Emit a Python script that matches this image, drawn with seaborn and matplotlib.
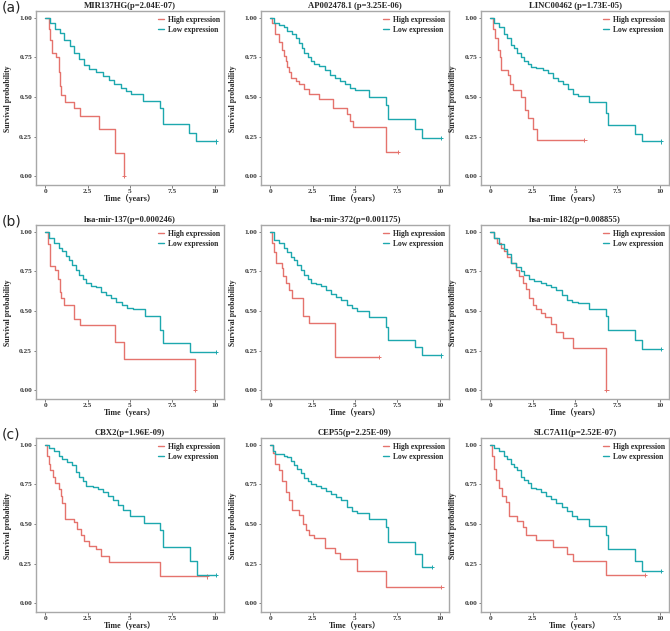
import numpy as np
import pandas as pd
import seaborn as sns
import matplotlib.pyplot as plt

# survival curves: (time in years, survival probability)
titles = ["MIR137HG(p=2.04E-07)", "AP002478.1 (p=3.25E-06)", "LINC00462 (p=1.73E-05)",
          "hsa-mir-137(p=0.000246)", "hsa-mir-372(p=0.001175)", "hsa-mir-182(p=0.008855)",
          "CBX2(p=1.96E-09)", "CEP55(p=2.25E-09)", "SLC7A11(p=2.52E-07)"]
panel_tags = ["(a)", "(b)", "(c)"]

high_t = [
    [0, 0.2, 0.3, 0.4, 0.65, 0.8, 0.85, 0.95, 1.15, 1.7, 2.05, 3.15, 4.1, 4.65],
    [0, 0.1, 0.3, 0.5, 0.7, 0.8, 0.9, 1.0, 1.1, 1.2, 1.5, 1.7, 2.0, 2.3, 2.9, 3.7, 4.5, 4.7, 4.9, 6.85, 7.55],
    [0, 0.15, 0.3, 0.45, 0.55, 0.65, 1.05, 1.15, 1.35, 1.8, 2.05, 2.25, 2.5, 2.75, 5.55],
    [0, 0.15, 0.3, 0.6, 0.75, 0.85, 0.95, 1.1, 1.7, 2.05, 4.1, 4.65, 8.85, 8.85],
    [0, 0.1, 0.2, 0.35, 0.7, 0.75, 0.95, 1.1, 1.25, 1.9, 1.95, 2.3, 3.8, 6.4],
    [0, 0.2, 0.4, 0.6, 0.8, 1.0, 1.2, 1.5, 1.7, 1.9, 2.1, 2.3, 2.5, 2.7, 3.0, 3.2, 3.6, 3.9, 4.3, 4.9, 6.85, 6.85],
    [0, 0.1, 0.2, 0.3, 0.45, 0.6, 0.8, 0.9, 1.0, 1.15, 1.7, 1.9, 2.1, 2.3, 2.6, 3.0, 3.3, 3.75, 6.8, 9.55],
    [0, 0.15, 0.3, 0.5, 0.7, 0.9, 1.1, 1.3, 1.7, 1.9, 2.1, 2.3, 2.6, 3.2, 3.8, 4.1, 5.1, 6.85, 10.1],
    [0, 0.1, 0.2, 0.35, 0.5, 0.7, 0.9, 1.1, 1.6, 1.9, 2.1, 2.7, 3.7, 4.5, 4.9, 6.85, 9.1],
]
high_s = [
    [1.0, 0.93, 0.86, 0.78, 0.75, 0.66, 0.57, 0.51, 0.47, 0.43, 0.38, 0.30, 0.15, 0.0],
    [1.0, 0.97, 0.90, 0.85, 0.80, 0.76, 0.73, 0.69, 0.66, 0.62, 0.60, 0.58, 0.55, 0.52, 0.49, 0.43, 0.39, 0.35, 0.31, 0.155, 0.155],
    [1.0, 0.93, 0.87, 0.80, 0.75, 0.67, 0.64, 0.58, 0.545, 0.50, 0.42, 0.365, 0.30, 0.228, 0.228],
    [1.0, 0.92, 0.785, 0.76, 0.70, 0.62, 0.58, 0.537, 0.45, 0.41, 0.304, 0.20, 0.20, 0.0],
    [1.0, 0.93, 0.87, 0.80, 0.77, 0.72, 0.68, 0.63, 0.58, 0.53, 0.47, 0.424, 0.21, 0.21],
    [1.0, 0.96, 0.93, 0.90, 0.88, 0.84, 0.80, 0.76, 0.72, 0.68, 0.64, 0.58, 0.54, 0.51, 0.49, 0.46, 0.42, 0.37, 0.33, 0.265, 0.265, 0.0],
    [1.0, 0.93, 0.88, 0.84, 0.80, 0.76, 0.72, 0.68, 0.63, 0.535, 0.51, 0.47, 0.43, 0.39, 0.36, 0.34, 0.30, 0.258, 0.17, 0.17],
    [1.0, 0.95, 0.88, 0.84, 0.77, 0.70, 0.65, 0.59, 0.56, 0.50, 0.46, 0.43, 0.41, 0.35, 0.32, 0.278, 0.206, 0.103, 0.103],
    [1.0, 0.93, 0.85, 0.78, 0.73, 0.68, 0.64, 0.55, 0.52, 0.48, 0.43, 0.40, 0.355, 0.31, 0.27, 0.18, 0.18],
]

low_t = [
    [0, 0.25, 0.55, 0.84, 1.13, 1.43, 1.72, 2.0, 2.3, 2.6, 3.0, 3.4, 3.78, 4.07, 4.46, 4.75, 5.05, 5.75, 6.8, 6.95, 8.5, 8.9, 10.05],
    [0, 0.2, 0.5, 0.8, 1.0, 1.3, 1.5, 1.7, 1.85, 2.0, 2.2, 2.4, 2.6, 2.9, 3.2, 3.5, 3.8, 4.1, 4.4, 4.7, 5.0, 5.8, 6.85, 6.95, 8.55, 8.95, 10.05],
    [0, 0.2, 0.5, 0.8, 1.0, 1.2, 1.4, 1.6, 1.8, 2.0, 2.2, 2.4, 2.7, 3.1, 3.4, 3.7, 4.0, 4.3, 4.6, 4.9, 5.2, 5.85, 6.8, 6.95, 8.55, 8.95, 10.05],
    [0, 0.2, 0.5, 0.8, 1.0, 1.2, 1.4, 1.6, 1.8, 2.0, 2.2, 2.4, 2.7, 3.0, 3.3, 3.6, 3.9, 4.2, 4.5, 4.8, 5.2, 5.9, 6.8, 6.95, 8.55, 10.05],
    [0, 0.2, 0.5, 0.8, 1.0, 1.2, 1.4, 1.6, 1.8, 2.0, 2.2, 2.4, 2.7, 3.0, 3.3, 3.6, 3.9, 4.2, 4.5, 4.8, 5.1, 5.8, 6.8, 6.95, 8.55, 8.95, 10.05],
    [0, 0.2, 0.5, 0.8, 1.0, 1.2, 1.5, 1.8, 2.0, 2.3, 2.6, 3.0, 3.3, 3.6, 3.9, 4.2, 4.5, 4.8, 5.2, 5.8, 6.8, 6.95, 8.55, 8.95, 10.05],
    [0, 0.2, 0.5, 0.8, 1.0, 1.3, 1.6, 1.8, 2.0, 2.2, 2.4, 2.8, 3.1, 3.4, 3.7, 4.0, 4.3, 4.6, 5.0, 5.8, 6.8, 6.95, 8.55, 8.95, 10.05],
    [0, 0.15, 0.3, 0.8, 1.0, 1.2, 1.4, 1.6, 1.8, 2.0, 2.2, 2.4, 2.7, 3.0, 3.3, 3.6, 3.9, 4.2, 4.5, 4.8, 5.1, 5.8, 6.8, 6.95, 8.55, 8.95, 9.55],
    [0, 0.2, 0.5, 0.8, 1.0, 1.2, 1.4, 1.6, 1.8, 2.0, 2.2, 2.4, 2.7, 3.0, 3.3, 3.6, 3.9, 4.2, 4.5, 4.8, 5.1, 5.8, 6.8, 6.95, 8.55, 8.95, 10.05],
]
low_s = [
    [1.0, 0.97, 0.93, 0.905, 0.86, 0.82, 0.78, 0.74, 0.70, 0.68, 0.66, 0.634, 0.61, 0.58, 0.56, 0.54, 0.52, 0.475, 0.43, 0.33, 0.275, 0.22, 0.22],
    [1.0, 0.97, 0.955, 0.94, 0.915, 0.895, 0.87, 0.84, 0.81, 0.78, 0.755, 0.73, 0.71, 0.695, 0.67, 0.64, 0.62, 0.60, 0.58, 0.56, 0.545, 0.50, 0.45, 0.36, 0.30, 0.24, 0.24],
    [1.0, 0.97, 0.94, 0.90, 0.87, 0.83, 0.81, 0.78, 0.75, 0.73, 0.71, 0.69, 0.685, 0.67, 0.65, 0.62, 0.60, 0.58, 0.55, 0.52, 0.505, 0.47, 0.40, 0.325, 0.27, 0.22, 0.22],
    [1.0, 0.96, 0.93, 0.90, 0.88, 0.85, 0.82, 0.79, 0.76, 0.73, 0.70, 0.68, 0.66, 0.65, 0.62, 0.60, 0.58, 0.56, 0.54, 0.52, 0.51, 0.47, 0.38, 0.30, 0.24, 0.24],
    [1.0, 0.95, 0.93, 0.90, 0.87, 0.84, 0.82, 0.79, 0.76, 0.73, 0.70, 0.68, 0.67, 0.655, 0.63, 0.61, 0.59, 0.57, 0.54, 0.52, 0.50, 0.46, 0.40, 0.32, 0.27, 0.22, 0.22],
    [1.0, 0.96, 0.92, 0.89, 0.86, 0.80, 0.78, 0.75, 0.73, 0.70, 0.69, 0.68, 0.665, 0.65, 0.63, 0.60, 0.57, 0.555, 0.55, 0.51, 0.47, 0.38, 0.32, 0.26, 0.26],
    [1.0, 0.98, 0.96, 0.93, 0.91, 0.89, 0.87, 0.83, 0.80, 0.77, 0.74, 0.735, 0.72, 0.70, 0.68, 0.65, 0.62, 0.59, 0.55, 0.505, 0.46, 0.355, 0.27, 0.18, 0.18],
    [1.0, 0.96, 0.94, 0.93, 0.92, 0.90, 0.87, 0.85, 0.82, 0.79, 0.77, 0.75, 0.74, 0.73, 0.71, 0.69, 0.67, 0.65, 0.61, 0.58, 0.57, 0.53, 0.48, 0.385, 0.31, 0.23, 0.23],
    [1.0, 0.98, 0.96, 0.93, 0.91, 0.88, 0.86, 0.84, 0.80, 0.78, 0.76, 0.73, 0.72, 0.70, 0.68, 0.66, 0.63, 0.61, 0.58, 0.55, 0.53, 0.485, 0.43, 0.34, 0.27, 0.205, 0.205],
]

colors = {"High expression": "#E5736D", "Low expression": "#1DA8AE"}

sns.set_theme(style="white")
plt.rcParams["font.family"] = ["Liberation Serif", "Noto Sans CJK SC"]
plt.rcParams["font.weight"] = "bold"

fig = plt.figure(figsize=(6.7, 6.31), dpi=100)
lefts = [0.0537, 0.3896, 0.718]
bottoms = [0.7068, 0.3677, 0.0301]
w, h = 0.2806, 0.275

for i in range(9):
    r, c = divmod(i, 3)
    ax = fig.add_axes([lefts[c], bottoms[r], w, h])
    df = pd.concat([
        pd.DataFrame({"time": high_t[i], "surv": high_s[i], "group": "High expression"}),
        pd.DataFrame({"time": low_t[i], "surv": low_s[i], "group": "Low expression"}),
    ])
    sns.lineplot(data=df, x="time", y="surv", hue="group", palette=colors,
                 estimator=None, sort=False, drawstyle="steps-post", lw=1.0, ax=ax)
    ends = df.groupby("group").tail(1)
    sns.scatterplot(data=ends, x="time", y="surv", hue="group", palette=colors,
                    marker="+", s=10, linewidth=0.7, legend=False, ax=ax)
    ax.set_xlim(-0.55, 10.55)
    ax.set_ylim(-0.055, 1.04)
    ax.set_xticks([0, 2.5, 5, 7.5, 10])
    ax.set_xticklabels(["0", "2.5", "5", "7.5", "10"])
    ax.set_yticks([0, 0.25, 0.5, 0.75, 1.0])
    ax.set_yticklabels(["0.00", "0.25", "0.50", "0.75", "1.00"])
    ax.tick_params(labelsize=5.3, colors="#666666", length=1.8, width=0.6,
                   bottom=True, left=True, pad=1)
    for lab in ax.get_xticklabels() + ax.get_yticklabels():
        lab.set_color("#3a3a3a")
        lab.set_fontweight("bold")
    for sp in ax.spines.values():
        sp.set_color("#A8A8A8")
        sp.set_linewidth(1.0)
    ax.set_title(titles[i], fontsize=6.2, fontweight="bold", pad=2.5)
    ax.set_xlabel("Time（years）", fontsize=5.8, fontweight="bold", labelpad=0)
    ax.set_ylabel("Survival probability", fontsize=5.6, fontweight="bold", labelpad=5)
    handles, labels = ax.get_legend_handles_labels()
    ax.legend(handles, labels, loc="upper right", frameon=False,
              handlelength=0.8, handletextpad=0.5, labelspacing=0.25,
              borderaxespad=0.15, prop={"weight": "bold", "size": 5.5})

for r in range(3):
    fig.text(0.003, bottoms[r] + h + 0.006, panel_tags[r], fontsize=10,
             family="DejaVu Sans", fontweight="normal", va="center", ha="left")

fig.savefig("out.png", dpi=100)
